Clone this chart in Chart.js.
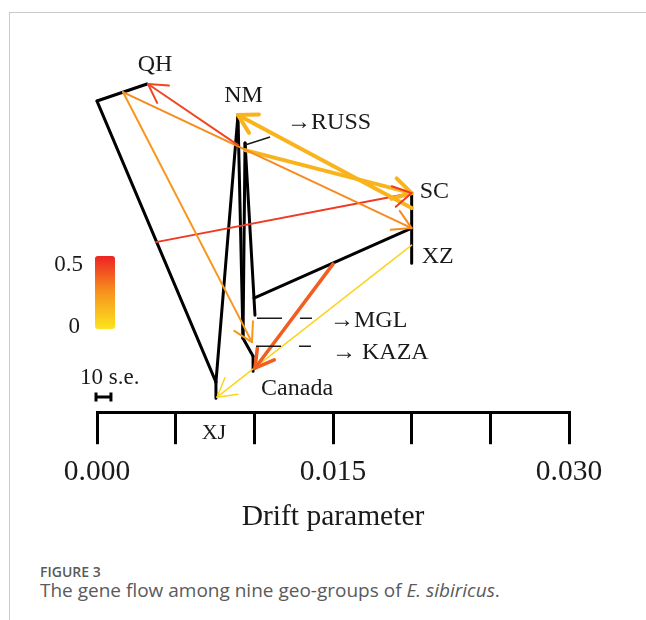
<!DOCTYPE html>
<html>
<head>
<meta charset="utf-8">
<script src="https://cdn.jsdelivr.net/npm/chart.js@4.4.0/dist/chart.umd.min.js"></script>
<style>
  body { margin: 0; background: #fff; width: 646px; height: 620px; position: relative; overflow: hidden; }
  #frame { position: absolute; left: 9px; top: 12px; right: 0; bottom: 0; border-top: 1px solid #cacaca; border-left: 1px solid #cacaca; }
  #chart { position: absolute; left: 0; top: 0; }
  .cap { position: absolute; left: 40px; font-family: 'Open Sans', sans-serif; color: #5a5a5a; white-space: nowrap; }
  #fig { top: 562px; font-size: 14px; font-weight: 600; line-height: 19px; }
  #desc { top: 578px; font-size: 19px; line-height: 24px; }
</style>
</head>
<body>
<div id="frame"></div>
<canvas id="chart" width="646" height="547"></canvas>
<div class="cap" id="fig">FIGURE 3</div>
<div class="cap" id="desc">The gene flow among nine geo-groups of <i>E. sibiricus</i>.</div>
<script>
// Tips: drift parameter (x) and vertical layout position (y, 0 = top, 1 = axis)
const tipNames = ['QH', 'NM', 'RUSS', 'SC', 'XZ', 'MGL', 'KAZA', 'Canada', 'XJ'];
const tipDrift = [0.00318, 0.00896, 0.00941, 0.0200, 0.0200, 0.01004, 0.00998, 0.00992, 0.00756];
const tipPos = [0.18, 0.2575, 0.3275, 0.4525, 0.6275, 0.7575, 0.835, 0.8975, 0.965];

// Internal nodes
const nodeNames = ['root', 'n1', 'n2', 'n3', 'n4', 'n5'];
const nodeDrift = [0, 0.00756, 0.00928, 0.00998, 0.0200, 0.00992];
const nodePos = [0.2225, 0.925, 0.815, 0.715, 0.54, 0.86];

// Tree edges
const edgeFrom = ['root', 'root', 'n1', 'n1', 'NM', 'RUSS', 'RUSS', 'n3', 'SC', 'n2', 'n5'];
const edgeTo = ['QH', 'n1', 'XJ', 'NM', 'n2', 'n2', 'MGL', 'n4', 'XZ', 'n5', 'Canada'];

// Migration edges (arrow points at the "to" end)
const migFromDrift = [0.00896, 0.00165, 0.00165, 0.0200, 0.00941, 0.00375, 0.0150, 0.0200];
const migFromPos = [0.3325, 0.20, 0.20, 0.49, 0.345, 0.575, 0.63, 0.5825];
const migToDrift = [0.00324, 0.0200, 0.00985, 0.00896, 0.0200, 0.0200, 0.01004, 0.00763];
const migToPos = [0.18, 0.54, 0.825, 0.2575, 0.4525, 0.4525, 0.89, 0.9625];
const migWeight = [0.42, 0.27, 0.24, 0.15, 0.15, 0.45, 0.37, 0.05];

const axisTicks = [0, 0.015, 0.030];
const weightTicks = [0, 0.5];
const seBar = 0.00095; // 10 s.e. in drift units

// Styles
const migLineWidth = [2, 2, 2, 4, 4, 2, 3.5, 1.5];
const weightStops = [[0, [252, 228, 30]], [0.25, [247, 148, 29]], [0.5, [237, 34, 36]]];
const serif = "'Liberation Serif', 'Times New Roman', serif";
const ink = '#1a1a1a';

function weightColor(w) {
    for (let i = 1; i < weightStops.length; i++) {
        const [w0, c0] = weightStops[i - 1];
        const [w1, c1] = weightStops[i];
        if (w <= w1 || i === weightStops.length - 1) {
            const t = Math.max(0, Math.min(1, (w - w0) / (w1 - w0)));
            const c = c0.map((v, k) => Math.round(v + (c1[k] - v) * t));
            return `rgb(${c[0]},${c[1]},${c[2]})`;
        }
    }
}

function nodeXY(name) {
    let i = tipNames.indexOf(name);
    if (i >= 0) return { x: tipDrift[i], y: tipPos[i] };
    i = nodeNames.indexOf(name);
    return { x: nodeDrift[i], y: nodePos[i] };
}

// Label layout, pixel offsets from the tip
const labelStyle = {
    QH: { dx: 8, dy: -19, align: 'center' },
    NM: { dx: 5.5, dy: -19, align: 'center' },
    RUSS: { dx: 42, dy: -20, align: 'left', text: '→RUSS' },
    SC: { dx: 8, dy: -1.5, align: 'left' },
    XZ: { dx: 10, dy: -6.5, align: 'left' },
    MGL: { dx: 75, dy: 6, align: 'left', text: '→MGL' },
    KAZA: { dx: 78, dy: 6.5, align: 'left', text: '→ KAZA' },
    Canada: { dx: 8, dy: 17.5, align: 'left' },
    XJ: { dx: -2, dy: 35, align: 'center', size: 22 }
};

const datasets = [];
migWeight.forEach((w, i) => {
    datasets.push({
        data: [{ x: migFromDrift[i], y: migFromPos[i] }, { x: migToDrift[i], y: migToPos[i] }],
        showLine: true, pointRadius: 0, borderColor: weightColor(w), borderWidth: migLineWidth[i],
        borderCapStyle: 'round', clip: false, order: 0
    });
});
edgeFrom.forEach((f, i) => {
    datasets.push({
        data: [nodeXY(f), nodeXY(edgeTo[i])],
        showLine: true, pointRadius: 0, borderColor: '#000', borderWidth: 3,
        borderCapStyle: 'round', clip: false, order: 1
    });
});

const treePlot = {
    id: 'treePlot',
    afterDatasetsDraw(chart) {
        const ctx = chart.ctx, xs = chart.scales.x, ys = chart.scales.y;
        ctx.save();
        // arrow heads
        migWeight.forEach((w, i) => {
            const x0 = xs.getPixelForValue(migFromDrift[i]), y0 = ys.getPixelForValue(migFromPos[i]);
            const x1 = xs.getPixelForValue(migToDrift[i]), y1 = ys.getPixelForValue(migToPos[i]);
            const a = Math.atan2(y1 - y0, x1 - x0);
            ctx.strokeStyle = weightColor(w);
            ctx.lineWidth = migLineWidth[i];
            ctx.lineCap = 'round';
            ctx.beginPath();
            [-1, 1].forEach(s => {
                ctx.moveTo(x1, y1);
                ctx.lineTo(x1 - 21 * Math.cos(a + s * Math.PI / 6), y1 - 21 * Math.sin(a + s * Math.PI / 6));
            });
            ctx.stroke();
        });

        // leader lines for crowded tips
        const tip = n => {
            const i = tipNames.indexOf(n);
            return [xs.getPixelForValue(tipDrift[i]), ys.getPixelForValue(tipPos[i])];
        };
        ctx.strokeStyle = ink;
        ctx.lineWidth = 1.5;
        ctx.lineCap = 'butt';
        ctx.beginPath();
        let [rx, ry] = tip('RUSS');
        ctx.moveTo(rx, ry + 2); ctx.lineTo(rx + 25, ry - 6);
        [['MGL', 3], ['KAZA', 0]].forEach(([n, off]) => {
            const [px, py] = tip(n);
            ctx.moveTo(px + 2, py + off); ctx.lineTo(px + 27, py + off);
            ctx.moveTo(px + 45, py + off); ctx.lineTo(px + 57, py + off);
        });
        ctx.stroke();

        // tip labels
        ctx.fillStyle = ink;
        ctx.textBaseline = 'middle';
        tipNames.forEach(n => {
            const st = labelStyle[n];
            const [px, py] = tip(n);
            ctx.font = `${st.size || 24}px ${serif}`;
            ctx.textAlign = st.align;
            ctx.fillText(st.text || n, px + st.dx, py + st.dy);
        });

        // weight colour legend
        const lx = 95, lt = 256, lw = 20, lh = 73;
        const g = ctx.createLinearGradient(0, lt + lh, 0, lt);
        weightStops.forEach(([w, c]) => g.addColorStop(w / 0.5, `rgb(${c.join(',')})`));
        ctx.fillStyle = g;
        ctx.beginPath();
        ctx.roundRect(lx, lt, lw, lh, 3);
        ctx.fill();
        ctx.fillStyle = ink;
        ctx.font = `23px ${serif}`;
        ctx.textAlign = 'right';
        weightTicks.forEach(w => {
            const ty = 327 - (w / 0.5) * 62;
            ctx.fillText(String(w), w === 0 ? 80 : 83, ty);
        });

        // scale bar
        ctx.textAlign = 'left';
        ctx.fillText('10 s.e.', 80, 378);
        const bx0 = xs.getPixelForValue(0) - 1, bx1 = bx0 + (xs.getPixelForValue(seBar) - xs.getPixelForValue(0));
        ctx.strokeStyle = '#000';
        ctx.lineWidth = 3;
        ctx.beginPath();
        ctx.moveTo(bx0, 397); ctx.lineTo(bx1, 397);
        ctx.moveTo(bx0, 392.5); ctx.lineTo(bx0, 401.5);
        ctx.moveTo(bx1, 392.5); ctx.lineTo(bx1, 401.5);
        ctx.stroke();
        ctx.restore();
    }
};

new Chart(document.getElementById('chart'), {
    type: 'scatter',
    data: { datasets },
    options: {
        responsive: false,
        animation: false,
        devicePixelRatio: 1,
        layout: { padding: { left: 97, right: 77, top: 12, bottom: 12 } },
        plugins: { legend: { display: false }, tooltip: { enabled: false } },
        scales: {
            x: {
                type: 'linear', min: 0, max: 0.030, position: 'bottom',
                border: { display: true, color: '#000', width: 3 },
                grid: { display: true, drawOnChartArea: false, drawTicks: true, tickLength: 32, color: '#000', lineWidth: 3 },
                ticks: {
                    stepSize: 0.005, autoSkip: false, maxRotation: 0, padding: 10, color: ink,
                    font: { family: serif, size: 29.5 },
                    callback: v => axisTicks.some(t => Math.abs(t - v) < 1e-9) ? v.toFixed(3) : ''
                },
                title: { display: true, text: 'Drift parameter', color: ink, font: { family: serif, size: 29.5 }, padding: { top: 0, bottom: 0 } }
            },
            y: { type: 'linear', display: false, min: 0, max: 1, reverse: true }
        }
    },
    plugins: [treePlot]
});
</script>
</body>
</html>
